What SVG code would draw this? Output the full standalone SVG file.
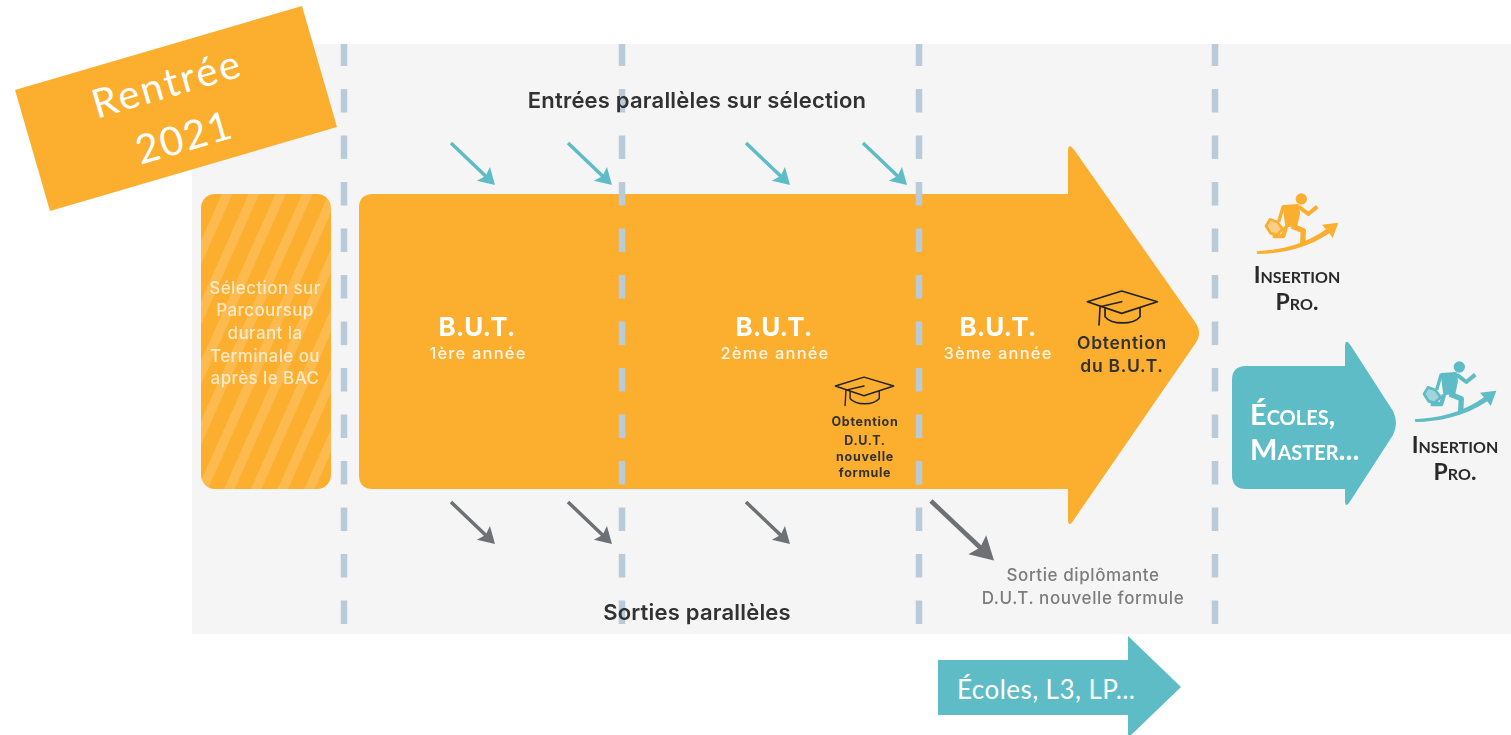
<svg xmlns="http://www.w3.org/2000/svg" width="1511" height="735" viewBox="0 0 1511 735">
<style>
.sans{font-family:"Inter","Noto Sans","Liberation Sans",sans-serif;text-anchor:middle}
.y{font-size:16.5px;font-weight:500;fill:#fff;opacity:.9;letter-spacing:1.18px}
.but{font-size:26px;font-weight:700;fill:#fff}
.hd{font-size:22px;font-weight:600;fill:#303030;letter-spacing:.2px}
.sel{font-size:17px;font-weight:500;fill:#fff;opacity:.72;letter-spacing:.4px}
.ins{font-family:"Lato",sans-serif;font-size:23px;font-weight:700;fill:#2a2a2a;font-variant:small-caps;text-anchor:middle}
.ob{font-size:17.5px;font-weight:600;fill:#333;letter-spacing:.7px}
.ob2{font-size:12.5px;font-weight:700;fill:#333;letter-spacing:.7px}
.so{font-size:17px;font-weight:500;fill:#7c7c7c;letter-spacing:.58px}
.cal{font-family:"Lato","Open Sans",sans-serif;fill:#fff}
.dash{stroke:#b9cbd9;stroke-width:6.5;stroke-dasharray:23.5 23;stroke-dashoffset:1.5;fill:none}
.cap{fill:none;stroke:#222;stroke-width:5;stroke-linecap:round;stroke-linejoin:round}
.tl{stroke:#5dbcc5;stroke-width:3.5}
.gl{stroke:#6d7074;stroke-width:3.5}
.gl2{stroke:#6d7074;stroke-width:4.5}
.soft{filter:url(#soft)}
</style>
<defs>
<filter id="soft" filterUnits="userSpaceOnUse" x="0" y="0" width="1511" height="735"><feGaussianBlur stdDeviation="0.55"/></filter>
<marker id="mt" viewBox="-24 -12 26 24" markerWidth="26" markerHeight="24" refX="-8" refY="0" markerUnits="userSpaceOnUse" orient="auto"><path d="M0,0L-16,-9.5L-13,0L-16,9.5Z" fill="#5dbcc5"/></marker>
<marker id="mg" viewBox="-24 -12 26 24" markerWidth="26" markerHeight="24" refX="-8" refY="0" markerUnits="userSpaceOnUse" orient="auto"><path d="M0,0L-16,-9.5L-13,0L-16,9.5Z" fill="#6d7074"/></marker>
<marker id="mg2" viewBox="-36 -18 38 36" markerWidth="38" markerHeight="36" refX="-11" refY="0" markerUnits="userSpaceOnUse" orient="auto"><path d="M0,0L-23,-13L-19,0L-23,13Z" fill="#6d7074"/></marker>
<pattern id="stripes" patternUnits="userSpaceOnUse" width="24.4" height="24.4" patternTransform="translate(222,194) rotate(24)"><rect width="24.4" height="24.4" fill="#fcae2e"/><rect width="9.5" height="24.4" fill="#fdbb50"/></pattern>
<g id="runner">
<circle cx="304" cy="87" r="17" fill="currentColor"/>
<path d="M248,105L296,102L300,130L292,168L256,172Z" fill="currentColor"/>
<g fill="none" stroke="currentColor" stroke-linejoin="round">
<path d="M296,110L325,132L352,110" stroke-width="12"/>
<path d="M275,168L310,182L308,222" stroke-width="16"/>
<path d="M258,170L250,198L218,198" stroke-width="13"/>
<path d="M250,108L236,155" stroke-width="10"/>
<path d="M198,168L210,148L232,156L248,178L230,194L212,190Z" stroke-width="8" fill="currentColor" fill-opacity=".55"/>
</g>
<path d="M170,244C240,240 310,226 378,178L366,164L415,158L398,204L388,190C320,236 240,252 172,252Z" fill="currentColor"/>
</g>
<g id="cap" class="cap">
<path d="M965,483L862,515L965,550L1072,515Z"/>
<path d="M915,535V560C935,585 1000,585 1020,560V535"/>
<path d="M965,515L900,530L897,585"/>
</g>
</defs>
<g id="background"><rect x="192" y="44" width="1319" height="590" fill="#f5f5f5"/></g>
<g id="selection" class="soft">
<rect x="201" y="194" width="130" height="295" rx="14" fill="url(#stripes)"/>
<text class="sans sel" x="265" y="294">Sélection sur</text>
<text class="sans sel" x="265" y="316">Parcoursup</text>
<text class="sans sel" x="265" y="339">durant la</text>
<text class="sans sel" x="265" y="362">Terminale ou</text>
<text class="sans sel" x="265" y="384">après le BAC</text>
</g>
<g id="but-arrow" class="soft">
<path d="M373,194H1068V152Q1068,141 1075,151L1195,322Q1203,333 1195,344L1075,518Q1068,530 1068,518V489H373Q359,489 359,475V208Q359,194 373,194Z" fill="#fcae2e"/>
</g>
<g id="separators" class="soft">
<path class="dash" d="M344,44V625"/>
<path class="dash" d="M622,44V625"/>
<path class="dash" d="M919,44V625"/>
<path class="dash" d="M1215,44V625"/>
</g>
<g id="but1" class="soft"><text class="sans but" x="477" y="336">B.U.T.</text><text class="sans y" x="478" y="359">1ère année</text></g>
<g id="but2" class="soft"><text class="sans but" x="774" y="336">B.U.T.</text><text class="sans y" x="775" y="359">2ème année</text></g>
<g id="but3" class="soft"><text class="sans but" x="998" y="336">B.U.T.</text><text class="sans y" x="998" y="359">3ème année</text></g>
<g id="obtention-but" class="soft">
<use href="#cap" transform="translate(1121.7,301.7) scale(.3333) translate(-965,-515)"/>
<text class="sans ob" x="1122" y="349">Obtention</text><text class="sans ob" x="1122" y="372">du B.U.T.</text>
</g>
<g id="obtention-dut" class="soft">
<use href="#cap" transform="translate(864,386) scale(.278) translate(-965,-515)"/>
<text class="sans ob2" x="865" y="426">Obtention</text><text class="sans ob2" x="865" y="445">D.U.T.</text><text class="sans ob2" x="865" y="461">nouvelle</text><text class="sans ob2" x="865" y="477">formule</text>
</g>
<g id="connectors" fill="none" class="soft">
<line class="tl" x1="451" y1="143" x2="489.2" y2="179.5" marker-end="url(#mt)"/>
<line class="tl" x1="568" y1="143" x2="606.2" y2="179.5" marker-end="url(#mt)"/>
<line class="tl" x1="746" y1="143" x2="784.2" y2="179.5" marker-end="url(#mt)"/>
<line class="tl" x1="863" y1="143" x2="901.2" y2="179.5" marker-end="url(#mt)"/>
<line class="gl" x1="451" y1="502" x2="489.2" y2="538.5" marker-end="url(#mg)"/>
<line class="gl" x1="568" y1="502" x2="606.2" y2="538.5" marker-end="url(#mg)"/>
<line class="gl" x1="746" y1="502" x2="784.2" y2="538.5" marker-end="url(#mg)"/>
<line class="gl2" x1="931" y1="501" x2="986" y2="553" marker-end="url(#mg2)"/>
</g>
<g id="label-entrees" class="soft"><text class="sans hd" x="697" y="108">Entrées parallèles sur sélection</text></g>
<g id="label-sorties" class="soft"><text class="sans hd" x="697" y="620">Sorties parallèles</text></g>
<g id="label-sortie-dut" class="soft"><text class="sans so" x="1083" y="581">Sortie diplômante</text><text class="sans so" x="1083" y="604">D.U.T. nouvelle formule</text></g>
<g id="insertion-1" class="soft">
<use href="#runner" color="#fcae2e" transform="translate(1200,170) scale(.3333)"/>
<text class="ins" x="1297" y="283">Insertion</text><text class="ins" x="1297" y="310">Pro.</text>
</g>
<g id="ecoles-master" class="soft">
<path d="M1246,366H1345V347Q1345,337 1351,346L1393,411Q1399,423 1393,435L1351,500Q1345,510 1345,500V489H1246Q1232,489 1232,475V380Q1232,366 1246,366Z" fill="#5dbcc5"/>
<text x="1250" y="425" font-family="Lato,sans-serif" font-size="29" font-weight="700" fill="#fff" style="font-variant:small-caps">Écoles,</text>
<text x="1250" y="460" font-family="Lato,sans-serif" font-size="29" font-weight="700" fill="#fff" style="font-variant:small-caps">Master...</text>
</g>
<g id="insertion-2" class="soft">
<use href="#runner" color="#5dbcc5" transform="translate(1358,338) scale(.3333)"/>
<text class="ins" x="1455" y="453">Insertion</text><text class="ins" x="1455" y="480">Pro.</text>
</g>
<g id="ecoles-l3">
<path d="M938,660H1128V636L1181,687L1128,738V715H938Z" fill="#5dbcc5"/>
<text class="cal" x="957" y="699" font-size="26" letter-spacing=".45">Écoles, L3, LP...</text>
</g>
<g id="rentree">
<path d="M302,6L337,127L50,211L15,90Z" fill="#fcae2e"/>
<text class="cal" text-anchor="middle" font-size="40" letter-spacing="2.5" transform="translate(171,97) rotate(-16.3)">Rentrée</text>
<text class="cal" text-anchor="middle" font-size="40" letter-spacing="1.5" transform="translate(188,151) rotate(-16.3)">2021</text>
</g>
</svg>
